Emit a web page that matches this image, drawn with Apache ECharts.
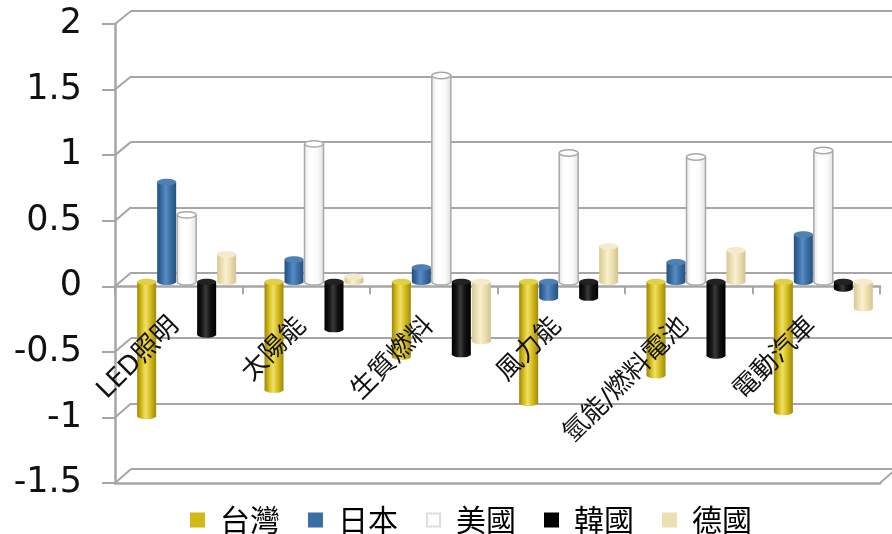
<!DOCTYPE html>
<html>
<head>
<meta charset="utf-8">
<script src="https://cdn.jsdelivr.net/npm/echarts@6/dist/echarts.min.js"></script>
<style>
  html, body { margin: 0; padding: 0; background: #ffffff; }
  #chart { width: 892px; height: 534px; }
</style>
</head>
<body>
<div id="chart"></div>
<script>
// Categories and series values
const categories = ['LED照明', '太陽能', '生質燃料', '風力能', '氫能/燃料電池', '電動汽車'];
const seriesNames = ['台灣', '日本', '美國', '韓國', '德國'];
const taiwan  = [-1.02, -0.82, -0.57, -0.92, -0.71, -0.99];
const japan   = [ 0.76,  0.17,  0.11, -0.12,  0.15,  0.36];
const usa     = [ 0.51,  1.05,  1.57,  0.98,  0.95,  1.00];
const korea   = [-0.40, -0.36, -0.55, -0.12, -0.56, -0.05];
const germany = [ 0.21,  0.04, -0.45,  0.27,  0.24, -0.20];
const yTicks  = [-1.5, -1, -0.5, 0, 0.5, 1, 1.5, 2];
const Y_MIN = -1.5, Y_MAX = 2, Y_STEP = 0.5;

// Cylinder shading per series
const palettes = [
  { base: '#d2b919', stops: ['#9c8508', '#d8c020', '#efe068', '#d4bc1c', '#a08a0a'], cap: '#e2cf45', stroke: null },
  { base: '#3a6ea6', stops: ['#22507f', '#3a6ea6', '#5a8cc2', '#3a6ea6', '#24527f'], cap: '#4f80b4', stroke: null },
  { base: '#ffffff', stops: ['#e6e6e6', '#ffffff', '#ffffff', '#fafafa', '#e2e2e2'], cap: '#ffffff', stroke: '#a8a8a8' },
  { base: '#000000', stops: ['#000000', '#151515', '#3a3a3a', '#111111', '#000000'], cap: '#222222', stroke: null },
  { base: '#ece0b2', stops: ['#d6c893', '#ece0b2', '#f8f0d0', '#ebdfb0', '#d2c48e'], cap: '#f3ead0', stroke: null }
];
const dataSets = [taiwan, japan, usa, korea, germany];

// Frame geometry (front face, back wall, bar plane, label strip)
const FRONT  = { left: 115, right: 12, top: 24, bottom: 51 };
const BACK   = { left: 131, right: 0,  top: 11, bottom: 65 };
const BARS   = { left: 123, right: 5,  top: 19, bottom: 55 };
const LABELS = { left: 111, right: 16, top: 24, bottom: 248 };
const GRID_GRAY = '#a6a6a6';

function cylinder(k, pal) {
  return function (params, api) {
    const ci = api.value(0);
    const v = api.value(1);
    const band = api.size([1, 0])[0];
    const step = band * 0.157;
    const w = step - 1;
    const base = api.coord([ci, 0]);
    const cx = base[0] + (k - 2) * step;
    const y0 = base[1];
    const y1 = api.coord([ci, v])[1];
    const top = Math.min(y0, y1), bot = Math.max(y0, y1);
    const rx = w / 2, ry = 3.2;
    const s = pal.stops;
    const grad = new echarts.graphic.LinearGradient(0, 0, 1, 0, [
      { offset: 0, color: s[0] }, { offset: 0.25, color: s[1] },
      { offset: 0.45, color: s[2] }, { offset: 0.7, color: s[3] },
      { offset: 1, color: s[4] }
    ]);
    const children = [
      { type: 'ellipse', shape: { cx: cx, cy: bot, rx: rx, ry: ry },
        style: { fill: grad, stroke: pal.stroke || null, lineWidth: 1.5 } },
      { type: 'rect', shape: { x: cx - rx, y: top, width: w, height: bot - top },
        style: { fill: grad } }
    ];
    if (pal.stroke) {
      children.push(
        { type: 'line', shape: { x1: cx - rx, y1: top, x2: cx - rx, y2: bot }, style: { stroke: pal.stroke, lineWidth: 1.5 } },
        { type: 'line', shape: { x1: cx + rx, y1: top, x2: cx + rx, y2: bot }, style: { stroke: pal.stroke, lineWidth: 1.5 } }
      );
    }
    children.push({ type: 'ellipse', shape: { cx: cx, cy: top, rx: rx, ry: ry },
      style: { fill: pal.cap, stroke: pal.stroke || null, lineWidth: 1.5 } });
    return { type: 'group', children: children };
  };
}

const hiddenY = { min: Y_MIN, max: Y_MAX, interval: Y_STEP, show: false };
const hiddenX = { type: 'category', data: categories, show: false };
function gridOf(r) { return Object.assign({ outerBoundsMode: 'none', containLabel: false }, r); }

const chart = echarts.init(document.getElementById('chart'), null, { renderer: 'canvas' });

chart.setOption({
  animation: false,
  backgroundColor: '#ffffff',
  grid: [gridOf(FRONT), gridOf(BACK), gridOf(BARS), gridOf(LABELS), gridOf(FRONT)],
  xAxis: [
    { // front category axis at zero with boundary ticks
      gridIndex: 0, type: 'category', data: categories,
      axisLine: { onZero: true, lineStyle: { color: GRID_GRAY, width: 2.5 } },
      axisTick: { show: true, length: 8, interval: 0, lineStyle: { color: GRID_GRAY, width: 2 } },
      axisLabel: { show: false }, splitLine: { show: false }
    },
    Object.assign({ gridIndex: 1 }, hiddenX),
    Object.assign({ gridIndex: 2 }, hiddenX),
    { // rotated category names along the zero line
      gridIndex: 3, type: 'category', data: categories, z: 10, position: 'bottom',
      axisLine: { onZero: false, lineStyle: { opacity: 0 } },
      axisTick: { show: false },
      axisLabel: {
        rotate: 45, margin: 36, interval: 0,
        fontSize: 26, color: '#111111',
        fontFamily: '"DejaVu Sans", "Noto Sans CJK TC", sans-serif'
      }
    },
    { // floor front edge
      gridIndex: 4, type: 'category', data: categories, position: 'bottom',
      axisLine: { onZero: false, lineStyle: { color: GRID_GRAY, width: 2.5 } },
      axisTick: { show: false }, axisLabel: { show: false }
    }
  ],
  yAxis: [
    {
      gridIndex: 0, type: 'value', min: Y_MIN, max: Y_MAX, interval: Y_STEP,
      axisLine: { show: true, lineStyle: { color: GRID_GRAY, width: 2.5 } },
      axisTick: { show: true, length: 13, lineStyle: { color: GRID_GRAY, width: 2 } },
      axisLabel: {
        margin: 33, fontSize: 35, color: '#111111',
        fontFamily: '"DejaVu Sans", Verdana, sans-serif',
        formatter: function (v) { return String(v); }
      },
      splitLine: { show: false }
    },
    {
      gridIndex: 1, type: 'value', min: Y_MIN, max: Y_MAX, interval: Y_STEP,
      axisLine: { show: false }, axisTick: { show: false }, axisLabel: { show: false },
      splitLine: { show: true, lineStyle: { color: GRID_GRAY, width: 2 } }
    },
    Object.assign({ gridIndex: 2, type: 'value' }, hiddenY),
    Object.assign({ gridIndex: 3, type: 'value' }, hiddenY),
    Object.assign({ gridIndex: 4, type: 'value' }, hiddenY)
  ],
  legend: {
    left: 190, top: 505, padding: 0,
    itemWidth: 13, itemHeight: 13, itemGap: 28,
    icon: 'rect',
    data: seriesNames,
    textStyle: {
      fontSize: 30, color: '#000000', padding: [0, 0, 0, 11],
      fontFamily: '"Noto Sans CJK TC", sans-serif'
    }
  },
  series: seriesNames.map(function (name, k) {
    return {
      name: name, type: 'custom',
      xAxisIndex: 2, yAxisIndex: 2,
      itemStyle: { color: palettes[k].base, borderColor: k === 2 ? '#dddddd' : palettes[k].base, borderWidth: 1 },
      renderItem: cylinder(k, palettes[k]),
      encode: { x: 0, y: 1 },
      data: dataSets[k].map(function (v, i) { return [i, v]; }),
      z: 3
    };
  })
});

// Depth connectors between the front face and the back wall
const frontX = FRONT.left;
const backX = BACK.left;
const frontRight = 892 - FRONT.right;
const connectors = yTicks.map(function (v) {
  const yf = chart.convertToPixel({ yAxisIndex: 0 }, v);
  const yb = chart.convertToPixel({ yAxisIndex: 1 }, v);
  return { type: 'line', z: 1, shape: { x1: frontX, y1: yf, x2: backX, y2: yb },
    style: { stroke: GRID_GRAY, lineWidth: 2 } };
});
const yfBottom = chart.convertToPixel({ yAxisIndex: 0 }, Y_MIN);
const ybBottom = chart.convertToPixel({ yAxisIndex: 1 }, Y_MIN);
connectors.push({ type: 'line', z: 1,
  shape: { x1: frontRight, y1: yfBottom, x2: frontRight + (backX - frontX), y2: ybBottom },
  style: { stroke: GRID_GRAY, lineWidth: 2 } });
chart.setOption({ graphic: connectors });
</script>
</body>
</html>
